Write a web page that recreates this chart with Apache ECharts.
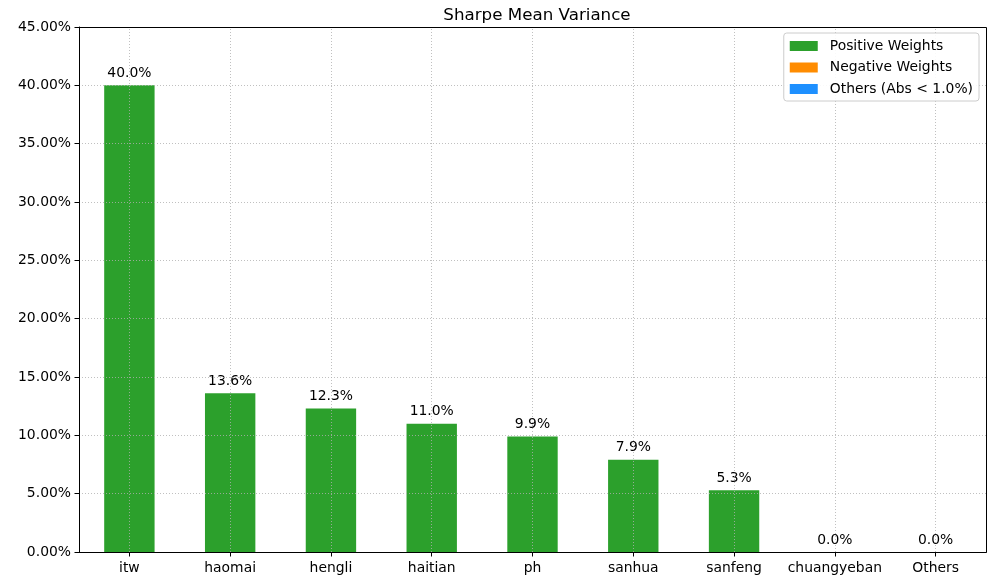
<!DOCTYPE html>
<html><head><meta charset="utf-8">
<script src="https://cdn.jsdelivr.net/npm/echarts@6/dist/echarts.min.js"></script>
<style>html,body{margin:0;padding:0;background:#fff}#c{width:1007px;height:587px}</style>
</head><body><div id="c"></div>
<script>
const categories = ['itw','haomai','hengli','haitian','ph','sanhua','sanfeng','chuangyeban','Others'];
const positiveWeights = [40.0, 13.6, 12.3, 11.0, 9.9, 7.9, 5.3, 0.0, null];
const negativeWeights = [null, null, null, null, null, null, null, null, null];
const othersWeights = [null, null, null, null, null, null, null, null, 0.0];
const seriesNames = ['Positive Weights', 'Negative Weights', 'Others (Abs < 1.0%)'];
const title = 'Sharpe Mean Variance';

const font = 'DejaVu Sans';
const fs = 13.9;
const gridColor = '#b0b0b0';
const toData = a => a.map(v => v === null ? '-' : v);
const labelCfg = {show: true, position: 'top', distance: 5, color: '#000', fontFamily: font, fontSize: fs,
  formatter: p => Number(p.value).toFixed(1) + '%'};
const chart = echarts.init(document.getElementById('c'), null, {renderer: 'canvas'});
chart.setOption({
  animation: false,
  title: {text: title, left: 532, textAlign: 'center', top: 2,
    textStyle: {fontFamily: font, fontSize: 16.7, fontWeight: 'normal', color: '#000'}},
  grid: {left: 79, right: 21, top: 27, bottom: 35, containLabel: false},
  legend: {
    z: 50,
    orient: 'vertical', right: 28, top: 33, padding: [6, 6, 5, 6], itemGap: 7.5,
    itemWidth: 28, itemHeight: 10, icon: 'rect',
    borderColor: '#cccccc', borderWidth: 1, borderRadius: 3, backgroundColor: 'rgba(255,255,255,0.9)',
    textStyle: {fontFamily: font, fontSize: fs, color: '#000', padding: [0, 0, 0, 7]},
    data: seriesNames
  },
  xAxis: {
    type: 'category', data: categories, z: 10,
    axisLine: {lineStyle: {color: '#000', width: 1}},
    axisTick: {show: true, alignWithLabel: true, length: 4.5, lineStyle: {color: '#000'}},
    axisLabel: {color: '#000', fontFamily: font, fontSize: fs, margin: 9, interval: 0},
    splitLine: {show: false}
  },
  yAxis: {
    type: 'value', min: 0, max: 45, interval: 5, z: 10,
    axisLine: {show: true, lineStyle: {color: '#000', width: 1}},
    axisTick: {show: true, length: 4.5, lineStyle: {color: '#000'}},
    axisLabel: {color: '#000', fontFamily: font, fontSize: fs, margin: 8, formatter: v => v.toFixed(2) + '%'},
    splitLine: {show: true, lineStyle: {color: gridColor, type: [1, 2], width: 0.8}}
  },
  series: [
    {name: seriesNames[0], type: 'bar', data: toData(positiveWeights), barWidth: '50%', barGap: '-100%',
      itemStyle: {color: '#2ca02c'}, label: labelCfg,
      markLine: {silent: true, symbol: 'none', z: 20, label: {show: false},
        lineStyle: {color: gridColor, type: [1, 2], width: 0.8},
        data: categories.map(c => ({xAxis: c}))}},
    {name: seriesNames[1], type: 'bar', data: toData(negativeWeights), barWidth: '50%', barGap: '-100%',
      itemStyle: {color: '#ff8c00'}, label: labelCfg},
    {name: seriesNames[2], type: 'bar', data: toData(othersWeights), barWidth: '50%', barGap: '-100%',
      itemStyle: {color: '#1e90ff'}, label: labelCfg}
  ],
  graphic: [{type: 'rect', z: 100, silent: true,
    shape: {x: 79.5, y: 27.5, width: 907, height: 525},
    style: {fill: 'none', stroke: '#000', lineWidth: 1}}]
});
</script></body></html>
